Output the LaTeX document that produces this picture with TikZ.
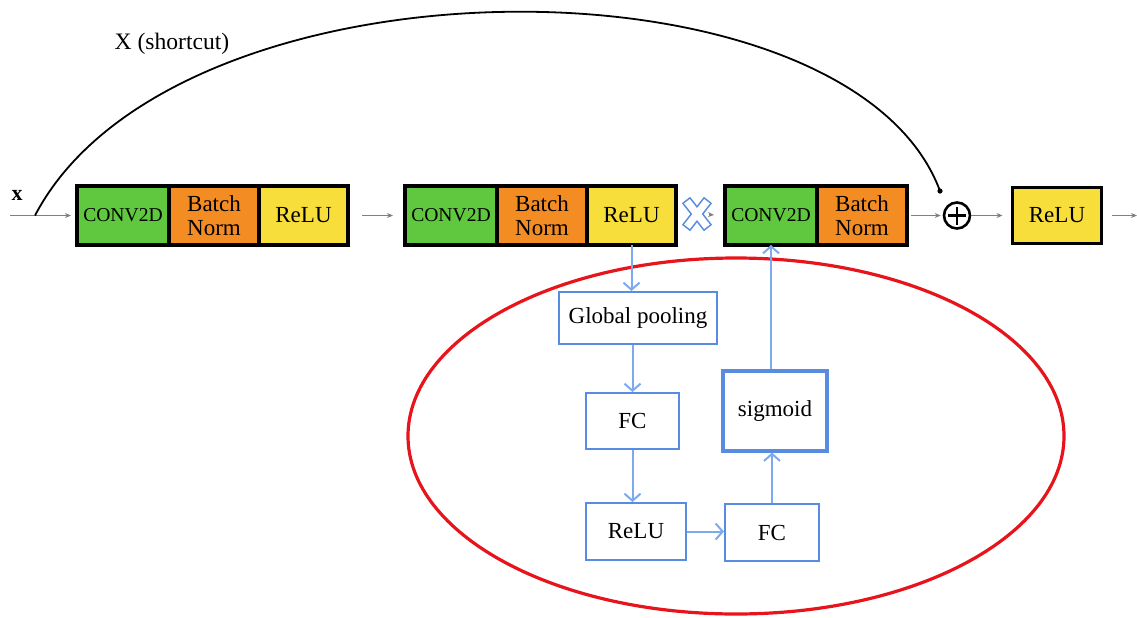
\documentclass[tikz,border=0pt]{standalone}
\usepackage{fontspec}
\setmainfont{Liberation Serif}
\usepackage{tikz}
\usetikzlibrary{arrows.meta}
\usetikzlibrary{positioning}

\definecolor{convgreen}{RGB}{96,200,62}
\definecolor{normorange}{RGB}{244,140,36}
\definecolor{reluyellow}{RGB}{247,222,58}
\definecolor{seblue}{RGB}{88,140,225}
\definecolor{searrow}{RGB}{125,170,238}
\definecolor{ringred}{RGB}{232,20,28}

\tikzset{
    layer/.style={draw=black, line width=1.6pt, outer sep=0pt, inner sep=0pt,
        minimum height=29.5pt, align=center, font=\fontsize{11.5}{12}\selectfont},
    conv/.style={layer, fill=convgreen, minimum width=46pt, font=\fontsize{9.8}{11}\selectfont},
    bnorm/.style={layer, fill=normorange, minimum width=45pt},
    relu/.style={layer, fill=reluyellow, minimum width=44.5pt},
    sebox/.style={draw=seblue, line width=1pt, inner sep=0pt, font=\fontsize{11.5}{13}\selectfont},
    flow/.style={gray, line width=0.5pt, -{Stealth[length=3pt, width=2.5pt]}},
    seflow/.style={searrow, line width=1pt, -{Straight Barb[length=3.5pt, width=8pt]}},
}

\begin{document}
\begin{tikzpicture}[x=0.5pt, y=-0.5pt]
    \useasboundingbox (0, 0) rectangle (1137, 617);

    \node [conv] (c1) at (123, 215.5) {CONV2D};
    \node [bnorm, right=0pt of c1] (b1) {Batch\\Norm};
    \node [relu, right=0pt of b1] (r1) {ReLU};

    \node [conv] (c2) at (451, 215.5) {CONV2D};
    \node [bnorm, right=0pt of c2] (b2) {Batch\\Norm};
    \node [relu, right=0pt of b2] (r2) {ReLU};

    \node [conv] (c3) at (771, 215.5) {CONV2D};
    \node [bnorm, right=0pt of c3] (b3) {Batch\\Norm};

    \node [circle, draw, line width=1.3pt, minimum size=13pt, inner sep=0pt] (add) at (957, 215.5) {};
    \draw [line width=1.1pt] ([xshift=-4.5pt]add.center) -- ([xshift=4.5pt]add.center);
    \draw [line width=1.1pt] ([yshift=-4.5pt]add.center) -- ([yshift=4.5pt]add.center);

    \node [relu, minimum height=28pt] (r4) at (1057, 215.5) {ReLU};

    \coordinate (xin) at (10, 215.5);
    \coordinate (xout) at (1137, 215.5);
    \draw [flow, shorten >=3pt] (xin) -- (c1.west);
    \draw [flow, shorten <=7pt, shorten >=6pt] (r1.east) -- (c2.west);
    \draw [flow, shorten <=2pt, shorten >=1pt] (b3.east) -- (add.west);
    \draw [flow, shorten >=5pt] (add.east) -- (r4.west);
    \draw [flow, shorten <=5pt] (r4.east) -- (xout);

    \coordinate (mul) at (697, 214);
    \begin{scope}[shift={(mul)}]
        \draw [seblue, line width=5.2pt] (-11, -14) -- (11, 14) (-11, 14) -- (11, -14);
        \draw [white, line width=3.6pt, shorten <=0.8pt, shorten >=0.8pt] (-11, -14) -- (11, 14);
        \draw [white, line width=3.6pt, shorten <=0.8pt, shorten >=0.8pt] (-11, 14) -- (11, -14);
    \end{scope}
    \draw [flow, shorten <=6pt, shorten >=5.5pt] (mul) -- (c3.west);

    \coordinate (sc) at (35, 215.5);
    \coordinate (scend) at (940, 191);
    \draw [line width=0.9pt] (sc) .. controls (175, -52) and (850, -52) .. (scend);
    \fill (scend) circle (1.3pt);
    \node [font=\fontsize{11.8}{13}\selectfont] (sclabel) at (172, 44) {X (shortcut)};
    \node [font=\fontsize{11}{13}\selectfont\bfseries] (xlabel) at (17, 195) {x};

    \draw [ringred, line width=1.6pt] (736, 436) ellipse (164pt and 89pt);

    \node [sebox, minimum width=79pt, minimum height=26pt] (gp) at (638, 318) {Global pooling};
    \node [sebox, minimum width=46.5pt, minimum height=28pt] (fc1) at (632.5, 421) {FC};
    \node [sebox, minimum width=50pt, minimum height=28.5pt] (rl) at (636, 531.5) {ReLU};
    \node [sebox, minimum width=47pt, minimum height=28.5pt] (fc2) at (772, 532.5) {FC};
    \node [sebox, line width=1.6pt, minimum width=52pt, minimum height=40pt] (sig) at (775, 411) {sigmoid};

    \draw [seflow] (r2.south) -- (r2.south |- gp.north);
    \draw [seflow] (gp.south -| fc1.north) -- (fc1.north);
    \draw [seflow] (fc1.south) -- (fc1.south |- rl.north);
    \draw [seflow] (rl.east) -- (rl.east -| fc2.west);
    \draw [seflow] (fc2.north) -- (fc2.north |- sig.south);
    \draw [seflow] (sig.north -| c3.south) -- (c3.south);
\end{tikzpicture}
\end{document}
